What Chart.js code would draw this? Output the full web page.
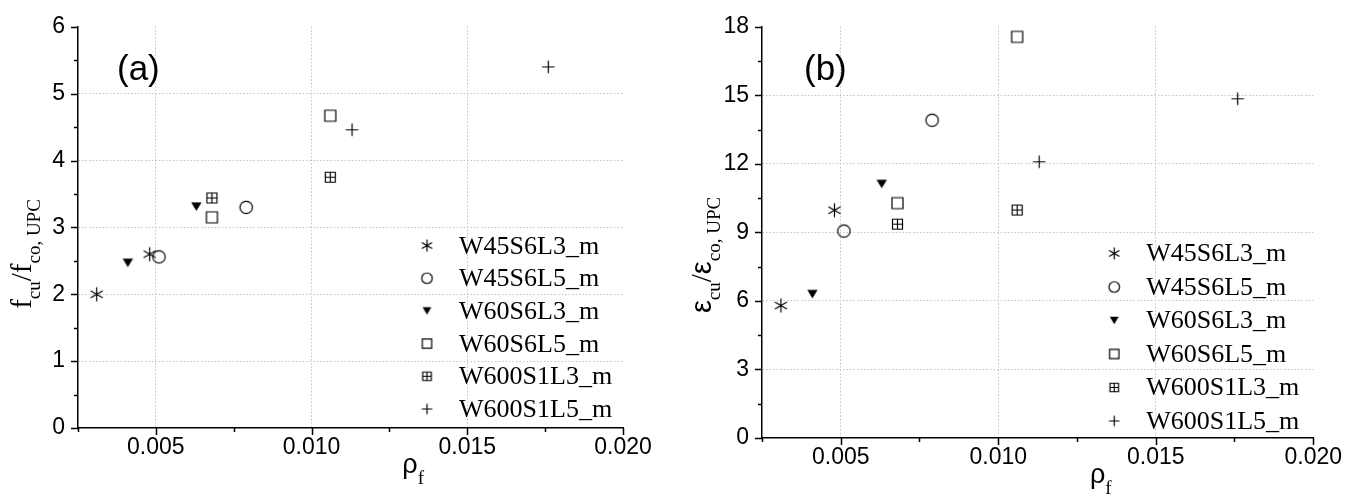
<!DOCTYPE html>
<html>
<head>
<meta charset="utf-8">
<script src="https://cdn.jsdelivr.net/npm/chart.js@4.4.1/dist/chart.umd.min.js"></script>
<style>
  html, body { margin: 0; padding: 0; background: #fff; }
  .wrap { position: absolute; top: 0; width: 674px; height: 497px; }
</style>
</head>
<body>
<div class="wrap" style="left:0"><canvas id="chartA"></canvas></div>
<div class="wrap" style="left:674px"><canvas id="chartB"></canvas></div>
<script>
const seriesNames = ['W45S6L3_m', 'W45S6L5_m', 'W60S6L3_m', 'W60S6L5_m', 'W600S1L3_m', 'W600S1L5_m'];
const markerTypes = ['star', 'circle', 'triangleDown', 'square', 'boxPlus', 'plus'];

// fibre ratio, two specimens per series
const rhoF = [
  [0.0031, 0.0048],
  [0.0051, 0.0079],
  [0.0041, 0.0063],
  [0.0068, 0.0106],
  [0.0068, 0.0106],
  [0.0113, 0.0176]
];
// f_cu / f_co,UPC
const strengthRatio = [
  [2.00, 2.60],
  [2.56, 3.30],
  [2.47, 3.31],
  [3.15, 4.67],
  [3.44, 3.75],
  [4.46, 5.40]
];
// eps_cu / eps_co,UPC
const strainRatio = [
  [5.80, 9.97],
  [9.06, 13.91],
  [6.30, 11.12],
  [10.28, 17.56],
  [9.36, 9.98],
  [12.09, 14.85]
];

const xTicks = [0.005, 0.010, 0.015, 0.020];
const yTicksA = [0, 1, 2, 3, 4, 5, 6];
const yTicksB = [0, 3, 6, 9, 12, 15, 18];

const SERIF = '"Liberation Serif", "Times New Roman", serif';
const SANS = '"Liberation Sans", Arial, sans-serif';

function makeMarker(type, s) {
  const c = document.createElement('canvas');
  c.width = c.height = 21;
  const g = c.getContext('2d');
  const m = 10.5;
  g.strokeStyle = '#000';
  g.fillStyle = '#000';
  g.lineWidth = 1.2;
  g.beginPath();
  if (type === 'star') {
    const r = 7 * s;
    for (let k = 0; k < 3; k++) {
      const a = Math.PI / 2 + k * Math.PI / 3;
      g.moveTo(m + r * Math.cos(a), m + r * Math.sin(a));
      g.lineTo(m - r * Math.cos(a), m - r * Math.sin(a));
    }
    g.stroke();
  } else if (type === 'circle') {
    g.arc(m, m, 6.2 * s, 0, Math.PI * 2);
    g.stroke();
  } else if (type === 'triangleDown') {
    const w = 5.2 * s, h = 4.3 * s;
    g.moveTo(m - w, m - h);
    g.lineTo(m + w, m - h);
    g.lineTo(m, m + h);
    g.closePath();
    g.fill();
  } else if (type === 'square') {
    const h = 5.5 * s;
    g.rect(m - h, m - h, 2 * h, 2 * h);
    g.stroke();
  } else if (type === 'boxPlus') {
    const h = 5 * s;
    g.rect(m - h, m - h, 2 * h, 2 * h);
    g.moveTo(m - h, m); g.lineTo(m + h, m);
    g.moveTo(m, m - h); g.lineTo(m, m + h);
    g.stroke();
  } else if (type === 'plus') {
    const r = 6.2 * s;
    g.moveTo(m - r, m); g.lineTo(m + r, m);
    g.moveTo(m, m - r); g.lineTo(m, m + r);
    g.stroke();
  }
  return c;
}

const plotMarkers = markerTypes.map(t => makeMarker(t, 1));
const legendMarkers = markerTypes.map(t => makeMarker(t, 0.85));

function drawRich(ctx, parts, x, y, rotate) {
  let total = 0;
  parts.forEach(p => { ctx.font = p.font; p.w = ctx.measureText(p.t).width; total += p.w; });
  ctx.save();
  ctx.translate(x, y);
  if (rotate) ctx.rotate(-Math.PI / 2);
  ctx.textAlign = 'left';
  ctx.textBaseline = 'alphabetic';
  ctx.fillStyle = '#000';
  let u = rotate ? -total / 2 : 0;
  parts.forEach(p => { ctx.font = p.font; ctx.fillText(p.t, u, p.dy || 0); u += p.w; });
  ctx.restore();
}

function makeDecor(cfg) {
  return {
    id: 'decor',
    afterDraw(chart) {
      const ctx = chart.ctx;
      const ca = chart.chartArea;
      const xs = chart.scales.x, ys = chart.scales.y;

      // major + minor tick marks
      ctx.save();
      ctx.strokeStyle = '#000';
      ctx.lineWidth = 1.5;
      ctx.beginPath();
      let n = Math.round((xs.max - xs.min) / cfg.xMinor);
      for (let i = 0; i <= n; i++) {
        const v = xs.min + i * cfg.xMinor;
        const px = Math.round(xs.getPixelForValue(v)) + 0.5;
        const major = Math.abs(v / cfg.xMajor - Math.round(v / cfg.xMajor)) < 1e-6;
        ctx.moveTo(px, ca.bottom);
        ctx.lineTo(px, ca.bottom + (major ? 7 : 4));
      }
      n = Math.round((ys.max - ys.min) / cfg.yMinor);
      for (let i = 0; i <= n; i++) {
        const v = ys.min + i * cfg.yMinor;
        const py = Math.round(ys.getPixelForValue(v)) + 0.5;
        const major = Math.abs(v / cfg.yMajor - Math.round(v / cfg.yMajor)) < 1e-6;
        ctx.moveTo(ca.left, py);
        ctx.lineTo(ca.left - (major ? 7 : 4), py);
      }
      ctx.stroke();
      ctx.restore();

      // panel label
      ctx.save();
      ctx.fillStyle = '#000';
      ctx.font = '35px ' + SANS;
      ctx.textBaseline = 'alphabetic';
      ctx.fillText(cfg.panel, ca.left + cfg.panelDx, 80);
      ctx.restore();

      // axis titles
      drawRich(ctx, cfg.yTitle, cfg.yTitleX, cfg.yTitleY, true);
      drawRich(ctx, [
        { t: 'ρ', font: '27px ' + SANS },
        { t: 'f', font: '19px ' + SERIF, dy: 11 }
      ], ca.left + 0.595 * (ca.right - ca.left), ca.bottom + 45, false);

      // legend
      ctx.save();
      ctx.font = '26px ' + SERIF;
      ctx.fillStyle = '#000';
      ctx.textBaseline = 'alphabetic';
      const gap = 0.0815 * (ca.bottom - ca.top);
      chart.data.datasets.forEach((ds, i) => {
        const y = ca.bottom - cfg.legendBottom - (seriesNames.length - 1 - i) * gap;
        const mk = legendMarkers[i];
        ctx.drawImage(mk, ca.right - cfg.legendMarkerDx - mk.width / 2, y - mk.height / 2);
        ctx.fillText(ds.label, ca.right - cfg.legendTextDx, y + 8);
      });
      ctx.restore();
    }
  };
}

function buildChart(id, values, yMax, yTicks, cfg) {
  const datasets = seriesNames.map((name, i) => ({
    label: name,
    data: rhoF[i].map((x, k) => ({ x: x, y: values[i][k] })),
    pointStyle: plotMarkers[i],
    pointRadius: 7,
    showLine: false
  }));
  const gridColor = (max) => (c) => (c.tick && c.tick.value > 0.0001 * max && c.tick.value < max * 0.999) ? '#c4c4c4' : 'rgba(0,0,0,0)';
  return new Chart(document.getElementById(id), {
    type: 'scatter',
    data: { datasets: datasets },
    options: {
      responsive: true,
      maintainAspectRatio: false,
      animation: false,
      events: [],
      layout: { padding: { top: 16, right: cfg.padRight, left: 0, bottom: 0 } },
      plugins: { legend: { display: false }, tooltip: { enabled: false } },
      scales: {
        x: {
          type: 'linear',
          min: 0.0025,
          max: 0.020,
          afterBuildTicks: s => { s.ticks = xTicks.map(v => ({ value: v })); },
          afterFit: s => { s.height = cfg.xHeight; },
          grid: { color: gridColor(0.020), lineWidth: 1, drawTicks: false },
          border: { color: '#000', width: 1.5, dash: [1.5, 2] },
          ticks: {
            padding: 6, color: '#000', autoSkip: false, maxRotation: 0,
            font: { family: SANS, size: 23 },
            callback: v => v.toFixed(3)
          }
        },
        y: {
          type: 'linear',
          min: 0,
          max: yMax,
          afterBuildTicks: s => { s.ticks = yTicks.map(v => ({ value: v })); },
          afterFit: s => { s.width = cfg.yWidth; },
          grid: { color: gridColor(yMax), lineWidth: 1, drawTicks: false },
          border: { color: '#000', width: 1.5, dash: [1.5, 2] },
          ticks: {
            padding: 13, color: '#000',
            font: { family: SANS, size: 23 },
            callback: v => String(v)
          }
        }
      }
    },
    plugins: [makeDecor(cfg)]
  });
}

buildChart('chartA', strengthRatio, 6, yTicksA, {
  padRight: 51, xHeight: 69, yWidth: 78,
  xMajor: 0.005, xMinor: 0.0025, yMajor: 1, yMinor: 0.5,
  panel: '(a)', panelDx: 39,
  yTitleX: 31, yTitleY: 254,
  yTitle: [
    { t: 'f', font: '29px ' + SERIF },
    { t: 'cu', font: '19px ' + SERIF, dy: 9 },
    { t: '/', font: '29px ' + SERIF },
    { t: 'f', font: '29px ' + SERIF },
    { t: 'co, UPC', font: '19px ' + SERIF, dy: 9 }
  ],
  legendBottom: 19, legendMarkerDx: 196, legendTextDx: 164
});

buildChart('chartB', strainRatio, 18, yTicksB, {
  padRight: 28, xHeight: 59, yWidth: 88,
  xMajor: 0.005, xMinor: 0.0025, yMajor: 3, yMinor: 1.5,
  panel: '(b)', panelDx: 42,
  yTitleX: 37, yTitleY: 255,
  yTitle: [
    { t: 'ε', font: '29px ' + SANS },
    { t: 'cu', font: '19px ' + SERIF, dy: 9 },
    { t: '/', font: '29px ' + SERIF },
    { t: 'ε', font: '29px ' + SANS },
    { t: 'co, UPC', font: '19px ' + SERIF, dy: 9 }
  ],
  legendBottom: 17, legendMarkerDx: 199, legendTextDx: 167
});
</script>
</body>
</html>
